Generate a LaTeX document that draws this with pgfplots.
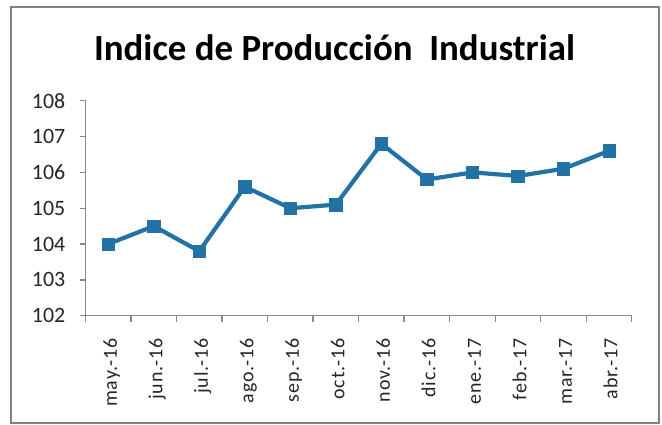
\documentclass[border=0pt]{standalone}
\usepackage{fontspec}
\setmainfont{Carlito}
\newfontfamily\xlab{Carlito}[LetterSpace=5]
\usepackage{pgfplots}
\pgfplotsset{compat=1.18}
\definecolor{lineblue}{RGB}{35,114,166}
\definecolor{axgray}{RGB}{137,137,137}
\definecolor{bordergray}{RGB}{130,130,130}
\begin{document}
\begin{tikzpicture}[x=1bp,y=1bp]
\useasboundingbox (0,0) rectangle (662,-424);
\fill[white] (0,0) rectangle (662,-424);
\draw[bordergray, line width=2bp] (11,-7) rectangle (659,-423);
\node[font=\bfseries\fontsize{37}{37}\selectfont, anchor=base, inner sep=0] at (334.5,-60) {Indice de Producción\ \ Industrial};
\begin{axis}[
  at={(85.5bp,-315.7bp)}, anchor=south west,
  width=546.2bp, height=215bp, scale only axis,
  xmin=-0.5, xmax=11.5, ymin=102, ymax=108,
  axis x line*=bottom, axis y line*=left,
  axis line style={axgray, line width=1.3bp},
  tick align=outside,
  major tick length=6bp, minor tick length=6bp,
  tick style={axgray, line width=1.3bp},
  xtick={0,...,11},
  xticklabels={may.-16,jun.-16,jul.-16,ago.-16,sep.-16,oct.-16,nov.-16,dic.-16,ene.-17,feb.-17,mar.-17,abr.-17},
  major x tick style={draw=none},
  minor xtick={-0.5,0.5,...,11.5},
  ytick={102,103,...,108},
  /pgf/number format/assume math mode=true,
  yticklabel style={font=\fontsize{22}{22}\selectfont, inner sep=0, text=black!85, xshift=-14bp},
  xticklabel style={font=\xlab\fontsize{20}{20}\selectfont, inner sep=0, text=black!85, xshift=8.5bp, yshift=-16bp, rotate=90, anchor=base east},
  clip=false,
]
\addplot[lineblue, line width=4.2bp, mark=square*, mark size=6.2bp, mark options={solid, fill=lineblue, draw=lineblue, line width=0.5bp}] coordinates {
(0,104.0) (1,104.5) (2,103.8) (3,105.6) (4,105.0) (5,105.1)
(6,106.8) (7,105.8) (8,106.0) (9,105.9) (10,106.1) (11,106.6)
};
\end{axis}
\end{tikzpicture}
\end{document}
